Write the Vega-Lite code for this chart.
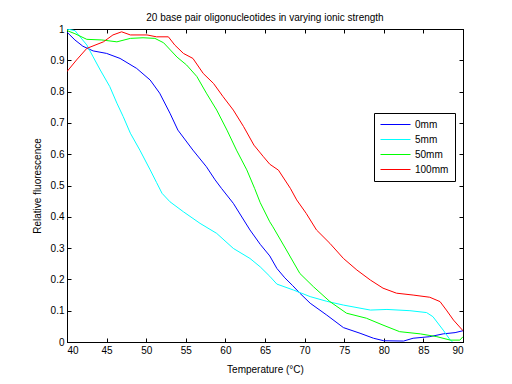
{
  "$schema": "https://vega.github.io/schema/vega-lite/v6.json",
  "width": 396,
  "height": 313,
  "autosize": "none",
  "padding": {"left": 67, "top": 29, "right": 49, "bottom": 42},
  "background": "white",
  "title": {"text": "20 base pair oligonucleotides in varying ionic strength", "fontSize": 10, "fontWeight": "normal", "font": "Liberation Sans", "color": "black", "offset": 1, "anchor": "middle"},
  "config": {
    "view": {"stroke": "black", "strokeWidth": 1},
    "axis": {"grid": false, "domainColor": "black", "tickColor": "black", "labelColor": "black", "titleColor": "black", "labelFont": "Liberation Sans", "titleFont": "Liberation Sans", "labelFontSize": 10, "titleFontSize": 10, "titleFontWeight": "normal", "tickSize": -4, "labelPadding": 7, "format": "~g"},
    "legend": {"labelFont": "Liberation Sans", "labelFontSize": 10, "labelColor": "black"}
  },
  "data": {"values": [
    {"T":40,"F":0.99,"s":"0mm"},{"T":41,"F":0.965,"s":"0mm"},{"T":42,"F":0.945,"s":"0mm"},{"T":42.6,"F":0.938,"s":"0mm"},{"T":43.3,"F":0.93,"s":"0mm"},{"T":45,"F":0.922,"s":"0mm"},{"T":46.7,"F":0.906,"s":"0mm"},{"T":48.8,"F":0.874,"s":"0mm"},{"T":50.5,"F":0.837,"s":"0mm"},{"T":51.7,"F":0.795,"s":"0mm"},{"T":53,"F":0.731,"s":"0mm"},{"T":54,"F":0.677,"s":"0mm"},{"T":55.9,"F":0.613,"s":"0mm"},{"T":57.6,"F":0.56,"s":"0mm"},{"T":58.7,"F":0.518,"s":"0mm"},{"T":59.5,"F":0.491,"s":"0mm"},{"T":61,"F":0.443,"s":"0mm"},{"T":63.1,"F":0.358,"s":"0mm"},{"T":64.4,"F":0.312,"s":"0mm"},{"T":65.6,"F":0.275,"s":"0mm"},{"T":66.5,"F":0.235,"s":"0mm"},{"T":67.5,"F":0.205,"s":"0mm"},{"T":68.5,"F":0.18,"s":"0mm"},{"T":69.4,"F":0.156,"s":"0mm"},{"T":70.7,"F":0.124,"s":"0mm"},{"T":72.8,"F":0.086,"s":"0mm"},{"T":74.9,"F":0.046,"s":"0mm"},{"T":77,"F":0.028,"s":"0mm"},{"T":78.7,"F":0.012,"s":"0mm"},{"T":80,"F":0.004,"s":"0mm"},{"T":82.5,"F":0.003,"s":"0mm"},{"T":83.7,"F":0.012,"s":"0mm"},{"T":85.8,"F":0.017,"s":"0mm"},{"T":87.5,"F":0.026,"s":"0mm"},{"T":89,"F":0.03,"s":"0mm"},{"T":90,"F":0.036,"s":"0mm"},
    {"T":40,"F":1.0,"s":"5mm"},{"T":41,"F":0.995,"s":"5mm"},{"T":42.5,"F":0.949,"s":"5mm"},{"T":43.3,"F":0.911,"s":"5mm"},{"T":44.2,"F":0.869,"s":"5mm"},{"T":45.4,"F":0.816,"s":"5mm"},{"T":46.3,"F":0.763,"s":"5mm"},{"T":47.1,"F":0.72,"s":"5mm"},{"T":48,"F":0.667,"s":"5mm"},{"T":49.2,"F":0.613,"s":"5mm"},{"T":50.5,"F":0.55,"s":"5mm"},{"T":51.3,"F":0.51,"s":"5mm"},{"T":52,"F":0.475,"s":"5mm"},{"T":53,"F":0.448,"s":"5mm"},{"T":54.7,"F":0.416,"s":"5mm"},{"T":56.8,"F":0.379,"s":"5mm"},{"T":58.9,"F":0.347,"s":"5mm"},{"T":61,"F":0.299,"s":"5mm"},{"T":63.1,"F":0.267,"s":"5mm"},{"T":64.4,"F":0.24,"s":"5mm"},{"T":65.6,"F":0.21,"s":"5mm"},{"T":66.5,"F":0.185,"s":"5mm"},{"T":68.6,"F":0.166,"s":"5mm"},{"T":70.7,"F":0.145,"s":"5mm"},{"T":72.8,"F":0.13,"s":"5mm"},{"T":74.9,"F":0.118,"s":"5mm"},{"T":78.3,"F":0.102,"s":"5mm"},{"T":80.4,"F":0.104,"s":"5mm"},{"T":83.3,"F":0.1,"s":"5mm"},{"T":85.4,"F":0.094,"s":"5mm"},{"T":86.2,"F":0.081,"s":"5mm"},{"T":87.5,"F":0.038,"s":"5mm"},{"T":88.4,"F":0.006,"s":"5mm"},{"T":88.7,"F":0.0,"s":"5mm"},
    {"T":40,"F":0.995,"s":"50mm"},{"T":41,"F":0.985,"s":"50mm"},{"T":42.5,"F":0.967,"s":"50mm"},{"T":44.4,"F":0.965,"s":"50mm"},{"T":46.3,"F":0.959,"s":"50mm"},{"T":48,"F":0.97,"s":"50mm"},{"T":49.6,"F":0.972,"s":"50mm"},{"T":51.1,"F":0.97,"s":"50mm"},{"T":52.2,"F":0.956,"s":"50mm"},{"T":53.9,"F":0.91,"s":"50mm"},{"T":55.1,"F":0.885,"s":"50mm"},{"T":56.4,"F":0.848,"s":"50mm"},{"T":57.6,"F":0.795,"s":"50mm"},{"T":58.9,"F":0.741,"s":"50mm"},{"T":60.2,"F":0.677,"s":"50mm"},{"T":61.4,"F":0.613,"s":"50mm"},{"T":62.7,"F":0.55,"s":"50mm"},{"T":63.7,"F":0.49,"s":"50mm"},{"T":64.4,"F":0.445,"s":"50mm"},{"T":65.6,"F":0.384,"s":"50mm"},{"T":66,"F":0.368,"s":"50mm"},{"T":67.7,"F":0.294,"s":"50mm"},{"T":69.4,"F":0.219,"s":"50mm"},{"T":71.1,"F":0.177,"s":"50mm"},{"T":73.2,"F":0.129,"s":"50mm"},{"T":75.3,"F":0.092,"s":"50mm"},{"T":77.8,"F":0.076,"s":"50mm"},{"T":79.9,"F":0.054,"s":"50mm"},{"T":82,"F":0.033,"s":"50mm"},{"T":84.6,"F":0.026,"s":"50mm"},{"T":86.7,"F":0.017,"s":"50mm"},{"T":88.4,"F":0.006,"s":"50mm"},{"T":89.6,"F":0.006,"s":"50mm"},{"T":90,"F":0.017,"s":"50mm"},
    {"T":40,"F":0.864,"s":"100mm"},{"T":41.2,"F":0.901,"s":"100mm"},{"T":42.5,"F":0.938,"s":"100mm"},{"T":44.6,"F":0.959,"s":"100mm"},{"T":45.8,"F":0.981,"s":"100mm"},{"T":46.9,"F":0.991,"s":"100mm"},{"T":48,"F":0.981,"s":"100mm"},{"T":50.1,"F":0.981,"s":"100mm"},{"T":51.3,"F":0.975,"s":"100mm"},{"T":52.8,"F":0.975,"s":"100mm"},{"T":53.6,"F":0.949,"s":"100mm"},{"T":54.7,"F":0.922,"s":"100mm"},{"T":55.9,"F":0.906,"s":"100mm"},{"T":57.2,"F":0.858,"s":"100mm"},{"T":58.5,"F":0.826,"s":"100mm"},{"T":59.7,"F":0.784,"s":"100mm"},{"T":61,"F":0.741,"s":"100mm"},{"T":62.3,"F":0.688,"s":"100mm"},{"T":63.6,"F":0.629,"s":"100mm"},{"T":64.8,"F":0.592,"s":"100mm"},{"T":65.6,"F":0.568,"s":"100mm"},{"T":66.7,"F":0.549,"s":"100mm"},{"T":68.2,"F":0.491,"s":"100mm"},{"T":69,"F":0.454,"s":"100mm"},{"T":70.2,"F":0.411,"s":"100mm"},{"T":71.5,"F":0.358,"s":"100mm"},{"T":73.2,"F":0.315,"s":"100mm"},{"T":74.9,"F":0.267,"s":"100mm"},{"T":76.6,"F":0.23,"s":"100mm"},{"T":78.3,"F":0.198,"s":"100mm"},{"T":79.9,"F":0.172,"s":"100mm"},{"T":81.6,"F":0.156,"s":"100mm"},{"T":83.7,"F":0.15,"s":"100mm"},{"T":85.8,"F":0.143,"s":"100mm"},{"T":87.1,"F":0.129,"s":"100mm"},{"T":87.9,"F":0.102,"s":"100mm"},{"T":88.8,"F":0.07,"s":"100mm"},{"T":90,"F":0.036,"s":"100mm"}
  ]},
  "layer": [
    {
      "mark": {"type": "line", "strokeWidth": 1, "clip": true},
      "encoding": {
        "x": {"field": "T", "type": "quantitative", "scale": {"domain": [40, 90], "nice": false, "zero": false}, "axis": {"values": [40,45,50,55,60,65,70,75,80,85,90], "title": "Temperature (°C)", "titlePadding": 9}},
        "y": {"field": "F", "type": "quantitative", "scale": {"domain": [0, 1], "nice": false}, "axis": {"values": [0,0.1,0.2,0.3,0.4,0.5,0.6,0.7,0.8,0.9,1], "title": "Relative fluorescence", "titlePadding": 8}},
        "color": {"field": "s", "type": "nominal", "sort": null, "scale": {"domain": ["0mm","5mm","50mm","100mm"], "range": ["#0000ff","#00ffff","#00ff00","#ff0000"]},
          "legend": {"title": null, "orient": "none", "legendX": 307, "legendY": 84, "symbolType": "M-1,0H5", "symbolSize": 100, "symbolStrokeWidth": 1, "strokeColor": "black", "fillColor": "white", "padding": 6, "rowPadding": 4, "labelOffset": 24}},
        "detail": {"field": "s"}
      }
    },
    {
      "mark": {"type": "line", "opacity": 0},
      "encoding": {
        "x": {"field": "T", "type": "quantitative", "scale": {"domain": [40, 90], "nice": false, "zero": false}, "axis": {"orient": "top", "values": [40,45,50,55,60,65,70,75,80,85,90], "labels": false, "title": null}},
        "y": {"field": "F", "type": "quantitative", "scale": {"domain": [0, 1], "nice": false}, "axis": {"orient": "right", "values": [0,0.1,0.2,0.3,0.4,0.5,0.6,0.7,0.8,0.9,1], "labels": false, "title": null}},
        "detail": {"field": "s"}
      }
    }
  ],
  "resolve": {"axis": {"x": "independent", "y": "independent"}}
}
